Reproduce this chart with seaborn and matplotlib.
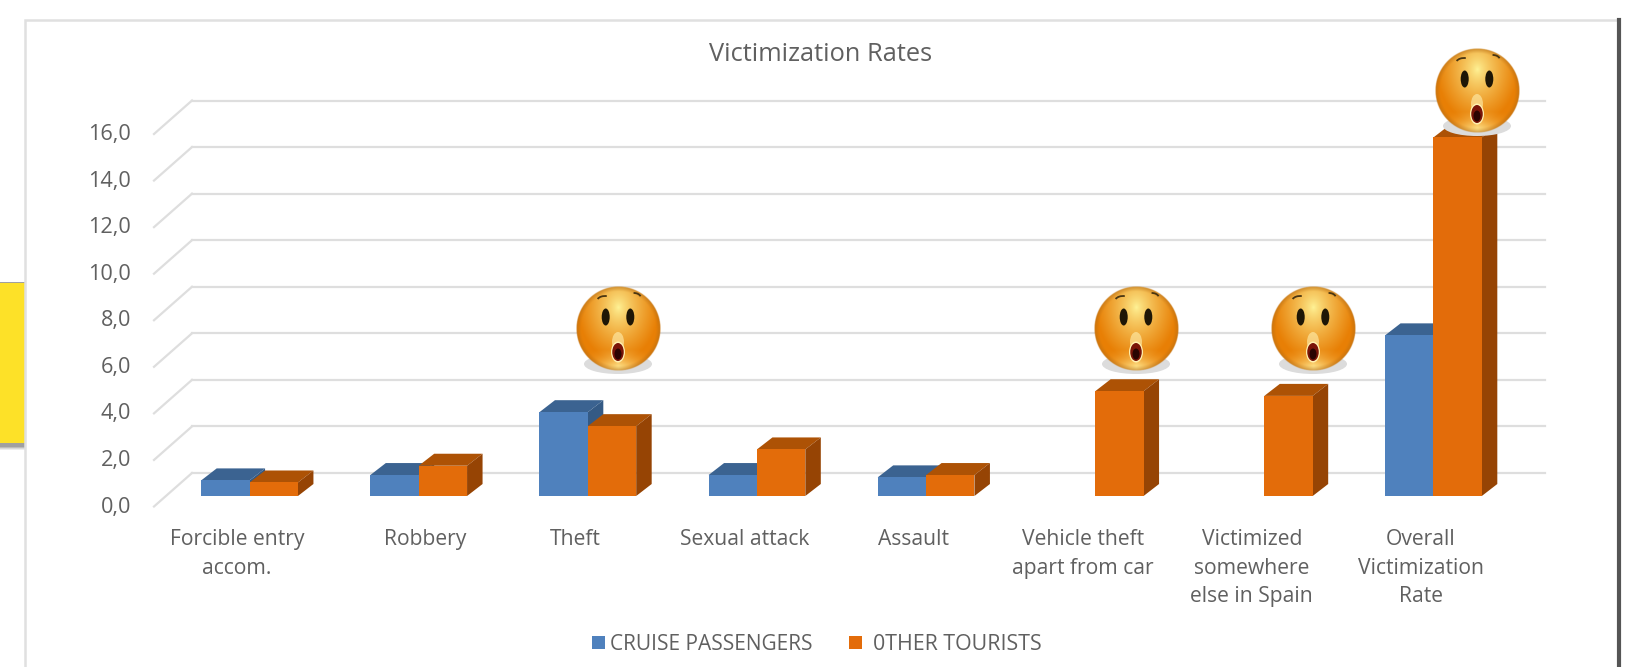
import numpy as np
import pandas as pd
import seaborn as sb
import matplotlib.pyplot as plt
import matplotlib.transforms as mtrans
from matplotlib.patches import Polygon, Rectangle, Ellipse, Arc

categories = ['Forcible entry\naccom.', 'Robbery', 'Theft', 'Sexual attack', 'Assault',
              'Vehicle theft\napart from car', 'Victimized\nsomewhere\nelse in Spain',
              'Overall\nVictimization\nRate']
cruise = [0.67, 0.9, 3.6, 0.9, 0.8, np.nan, np.nan, 6.9]
other = [0.58, 1.3, 3.0, 2.0, 0.9, 4.5, 4.3, 15.4]
y_ticks = [0, 2, 4, 6, 8, 10, 12, 14, 16]
y_labels = ['0,0', '2,0', '4,0', '6,0', '8,0', '10,0', '12,0', '14,0', '16,0']
series_names = ['CRUISE PASSENGERS', '0THER TOURISTS']

W, H = 1641, 667
DPI = 100
TEXT = '#606060'
GRID = '#dedede'
# front, top, side colours for each series
COLORS = {series_names[0]: ('#4f81bd', '#3b6391', '#345a85'),
          series_names[1]: ('#e36c0a', '#ad5205', '#964404')}

plt.rcParams['font.family'] = ['Open Sans', 'DejaVu Sans']

df = pd.DataFrame({'category': categories * 2,
                   'value': cruise + other,
                   'series': [series_names[0]] * 8 + [series_names[1]] * 8})

fig = plt.figure(figsize=(W / DPI, H / DPI), dpi=DPI)

# page background, chart box and the yellow box cut off on the left
bg = fig.add_axes([0, 0, 1, 1], zorder=0)
bg.set_xlim(0, W)
bg.set_ylim(H, 0)
bg.axis('off')
for i, c in enumerate(['#ececec', '#d8d8d8', '#bcbcbc', '#a0a0a0']):
    bg.add_patch(Rectangle((0, 282), 26, 168 - i, color=c, lw=0))
bg.add_patch(Rectangle((0, 283), 26, 160, color='#fde128', lw=0))
bg.add_patch(Rectangle((25, 20), 1594, 660, fc='white', ec='#e0e0e0', lw=1.8))
bg.plot([1619, 1619], [20, 667], color='#555555', lw=3, zorder=3)

# bars: the axes span the plane where the front faces sit
left, right, bottom, top = 165, 1518, 496, 123.5
ax = fig.add_axes([left / W, 1 - bottom / H, (right - left) / W, (bottom - top) / H], zorder=1)
ax.patch.set_alpha(0)
sb.barplot(data=df, x='category', y='value', hue='series', order=categories,
           hue_order=series_names, palette={k: v[0] for k, v in COLORS.items()},
           width=0.572, gap=0, saturation=1, legend=False, ax=ax, linewidth=0)
ax.set_xlim(-0.5, 7.5)
ax.set_ylim(0, 16)
sb.despine(ax=ax, left=True, bottom=True, top=True, right=True)
ax.set_xlabel('')
ax.set_ylabel('')
ax.set_yticks(y_ticks)
ax.set_yticklabels(y_labels)
ax.tick_params(axis='y', length=0, pad=24.5, labelsize=15.6, labelcolor=TEXT)
ax.tick_params(axis='x', length=0, pad=24, labelsize=15.2, labelcolor=TEXT)
ax.grid(False)


def px(dx, dy):
    # data transform shifted by screen pixels, dy upwards
    return mtrans.offset_copy(ax.transData, fig, x=dx, y=dy, units='dots')


# gridlines on the back wall and along the left wall
back = px(27, 23)
for v in y_ticks:
    ax.plot([-0.5, 7.5], [v, v], color=GRID, lw=1.6, transform=back, zorder=0.5, clip_on=False)
    (x0, y0) = ax.transData.transform((-0.5, v))
    ax.plot([-11, 27], [-10.5, 23], color=GRID, lw=1.6, zorder=0.5, clip_on=False,
            transform=mtrans.Affine2D().translate(x0, y0))

# 3D faces taken from the drawn bars
DX, DY = 15.5, 12
for b in ax.patches:
    h = b.get_height()
    if not h > 0:
        continue
    is_blue = b.get_x() + b.get_width() / 2 < round(b.get_x() + b.get_width() / 2)
    front, top_c, side_c = COLORS[series_names[0] if is_blue else series_names[1]]
    z = 2 if is_blue else 2.5
    (xa, ya) = ax.transData.transform((b.get_x(), 0))
    (xb, yb) = ax.transData.transform((b.get_x() + b.get_width(), h))
    ax.add_patch(Polygon([(xa, yb), (xb, yb), (xb + DX, yb + DY), (xa + DX, yb + DY)],
                         fc=top_c, lw=0, transform=mtrans.IdentityTransform(), zorder=z))
    ax.add_patch(Polygon([(xb, ya), (xb, yb), (xb + DX, yb + DY), (xb + DX, ya + DY)],
                         fc=side_c, lw=0, transform=mtrans.IdentityTransform(), zorder=z))
    b.set_zorder(3)

# tick labels sit on the front edge of the floor, not on the bar plane
down = mtrans.ScaledTranslation(0, -8.5 / DPI, fig.dpi_scale_trans)
for lab in ax.get_yticklabels():
    lab.set_transform(lab.get_transform() + down)
for lab, cat in zip(ax.get_xticklabels(), categories):
    shift = 6 if cat == 'Robbery' else -12.5
    lab.set_transform(lab.get_transform() + mtrans.ScaledTranslation(shift / DPI, 0, fig.dpi_scale_trans))
    lab.set_linespacing(1.47)

fig.text(821 / W, 1 - 54.5 / H, 'Victimization Rates', ha='center', va='center', fontsize=18.3, color=TEXT)

# legend
fig.patches.append(Rectangle((592 / W, 1 - 649 / H), 13 / W, 13 / H, transform=fig.transFigure,
                             fc=COLORS[series_names[0]][0], lw=0))
fig.patches.append(Rectangle((849 / W, 1 - 649 / H), 13 / W, 13 / H, transform=fig.transFigure,
                             fc=COLORS[series_names[1]][0], lw=0))
fig.text(610 / W, 1 - 644 / H, series_names[0], va='center', fontsize=15, color=TEXT)
fig.text(873 / W, 1 - 644 / H, series_names[1], va='center', fontsize=15.4, color=TEXT)

# surprised faces on the highest bars
over = fig.add_axes([0, 0, 1, 1], zorder=5)
over.set_xlim(0, W)
over.set_ylim(H, 0)
over.axis('off')
over.patch.set_alpha(0)


def face_image():
    n = 200
    yy, xx = np.mgrid[-1:1:n * 1j, -1:1:n * 1j]
    r = np.sqrt(xx ** 2 + yy ** 2)
    d = np.clip(np.sqrt((xx / 0.95) ** 2 + ((yy + 0.5) / 1.25) ** 2), 0, 1)
    hi = np.array([1.0, 0.96, 0.6])
    lo = np.array([0.91, 0.50, 0.02])
    img = hi + (lo - hi) * (d[..., None] ** 0.75)
    low = np.clip((yy - 0.5) / 0.42, 0, 1) * np.clip(1 - np.abs(xx) / 0.75, 0, 1)
    img = img + (np.array([1.0, 0.9, 0.55]) - img) * low[..., None]
    rim = np.clip((r - 0.88) / 0.12, 0, 1)
    img = img + (np.array([0.70, 0.42, 0.08]) - img) * rim[..., None] * 0.6
    alpha = np.clip((1 - r) * 60, 0, 1)
    return np.dstack([np.clip(img, 0, 1), alpha])


IMG = face_image()


def draw_face(cx, cy, R=42.5):
    over.add_patch(Ellipse((cx, cy + 35), 68, 20, fc='#dcdcdc', lw=0, zorder=1))
    over.imshow(IMG, extent=(cx - R, cx + R, cy + R, cy - R), zorder=2, aspect='auto', interpolation='bilinear')
    for sx in (-1, 1):
        over.add_patch(Ellipse((cx + sx * 12.3, cy - 12), 8, 17, fc='#1e1606', lw=0, zorder=3))
    over.add_patch(Arc((cx - 13, cy - 28), 16, 10, theta1=195, theta2=290, color='#4a3612', lw=1.3, zorder=3))
    over.add_patch(Arc((cx + 16, cy - 31), 14, 10, theta1=265, theta2=345, color='#4a3612', lw=1.3, zorder=3))
    over.add_patch(Ellipse((cx, cy + 13), 12, 20, fc='#fff0b0', ec='none', alpha=0.6, zorder=3))
    over.add_patch(Ellipse((cx, cy + 23), 14, 21, fc='#fff0b0', lw=0, zorder=3))
    over.add_patch(Ellipse((cx, cy + 23), 11.5, 18, fc='#7a1408', lw=0, zorder=3))
    over.add_patch(Ellipse((cx, cy + 25), 7, 11, fc='#2a0402', lw=0, zorder=3))


for c in [(618, 329), (1136, 329), (1313, 329), (1477, 91)]:
    draw_face(*c)
over.set_xlim(0, W)
over.set_ylim(H, 0)

fig.savefig('out.png', dpi=DPI)
